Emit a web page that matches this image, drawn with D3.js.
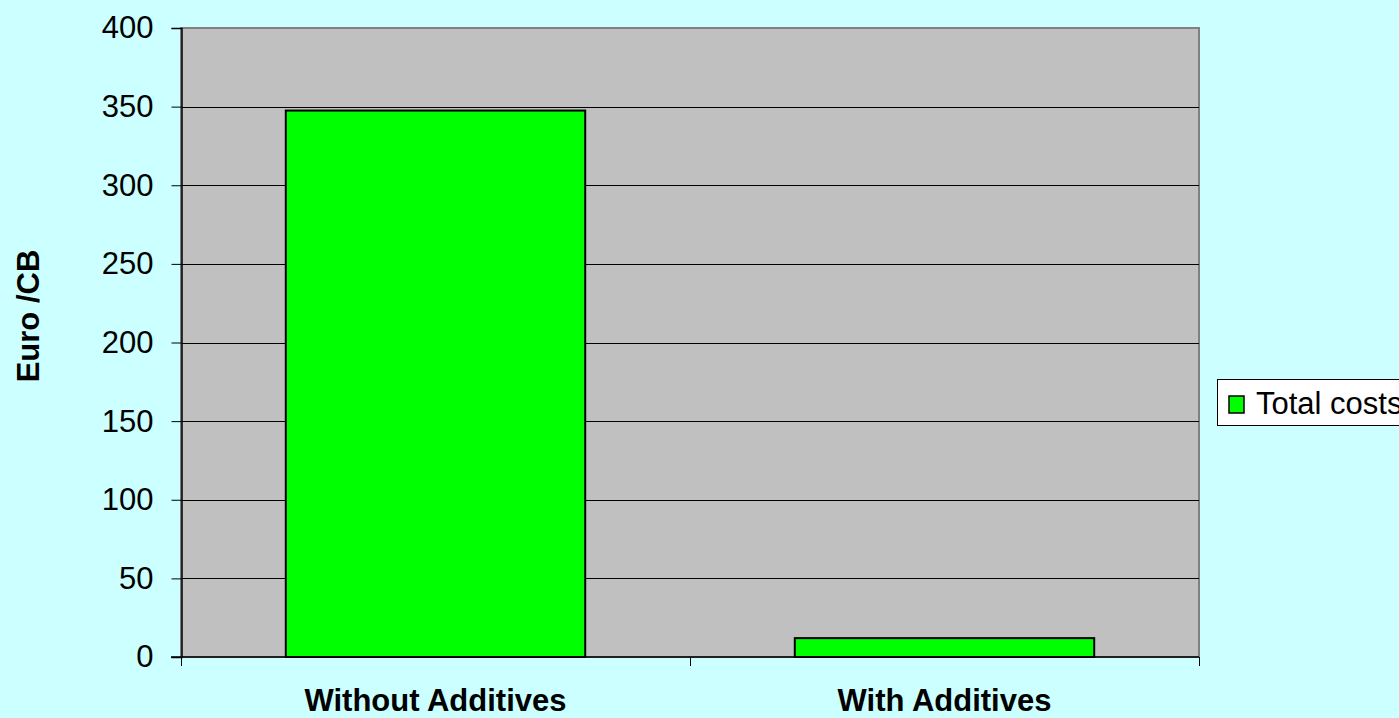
<!DOCTYPE html>
<html><head><meta charset="utf-8">
<script src="https://cdn.jsdelivr.net/npm/d3@7"></script>
<style>
html,body{margin:0;padding:0;background:#CCFFFF;overflow:hidden;}
svg{display:block;}
text{font-family:Arial,"Liberation Sans",sans-serif;}
</style></head>
<body>
<svg id="chart" width="1399" height="718"></svg>
<script>
const categories = ["Without Additives", "With Additives"];
const totalCosts = [347.5, 12];
const yTicks = [0, 50, 100, 150, 200, 250, 300, 350, 400];
const seriesName = "Total costs";
const yLabel = "Euro /CB";

const svg = d3.select("#chart");
const W = 1399, H = 718;
svg.append("rect").attr("width", W).attr("height", H).attr("fill", "#CCFFFF");

const m = {left: 181, right: 1199, top: 28, bottom: 657};
const xb = d3.scaleBand().domain(categories).range([m.left, m.right]);
const barW = xb.bandwidth() / 1.7; // gap width 70%
const y = d3.scaleLinear().domain([0, 400]).range([m.bottom, m.top]);

// plot background
svg.append("rect").attr("x", m.left).attr("y", m.top)
  .attr("width", m.right - m.left).attr("height", m.bottom - m.top)
  .attr("fill", "#C0C0C0").attr("stroke", "#808080").attr("stroke-width", 2);

// gridlines
svg.append("g").selectAll("line").data(yTicks.filter(d => d > 0 && d < 400)).join("line")
  .attr("x1", m.left).attr("x2", m.right)
  .attr("y1", d => Math.round(y(d)) + 0.5).attr("y2", d => Math.round(y(d)) + 0.5)
  .attr("stroke", "#000").attr("stroke-width", 1);

// bars
svg.append("g").selectAll("rect").data(categories).join("rect")
  .attr("x", (d) => xb(d) + (xb.bandwidth() - barW) / 2)
  .attr("width", barW)
  .attr("y", (d, i) => y(totalCosts[i]))
  .attr("height", (d, i) => y(0) - y(totalCosts[i]))
  .attr("fill", "#00FF00").attr("stroke", "#000").attr("stroke-width", 2);

// y axis
const yAxis = d3.axisLeft(y).tickValues(yTicks).tickSize(10).tickPadding(18).tickFormat(d3.format("d"));
const gy = svg.append("g").attr("transform", `translate(${m.left + 0.5},0)`).call(yAxis);
gy.select(".domain").attr("stroke", "#000").attr("stroke-width", 1.5);
gy.selectAll(".tick line").attr("stroke", "#000");
gy.selectAll(".tick text").attr("font-size", 31).attr("fill", "#000")
  .attr("font-family", "Arial, 'Liberation Sans', sans-serif");

// x axis
const gx = svg.append("g").attr("transform", `translate(0,${m.bottom})`);
gx.append("line").attr("x1", m.left - 10).attr("x2", m.right).attr("y1", 0).attr("y2", 0)
  .attr("stroke", "#000").attr("stroke-width", 1.5);
const tickXs = [m.left].concat(categories.map(c => xb(c) + xb.bandwidth()));
gx.selectAll("line.t").data(tickXs).join("line").attr("class", "t")
  .attr("x1", d => Math.round(d) + 0.5).attr("x2", d => Math.round(d) + 0.5)
  .attr("y1", 0).attr("y2", 9).attr("stroke", "#000");
gx.selectAll("text").data(categories).join("text")
  .attr("x", d => xb(d) + xb.bandwidth() / 2)
  .attr("y", 54)
  .attr("text-anchor", "middle")
  .attr("font-size", 31).attr("font-weight", "bold").attr("fill", "#000")
  .text(d => d);

// y label
svg.append("text")
  .attr("transform", `translate(39,316) rotate(-90)`)
  .attr("text-anchor", "middle")
  .attr("font-size", 31).attr("font-weight", "bold").attr("fill", "#000")
  .text(yLabel);

// legend
const lg = svg.append("g");
lg.append("rect").attr("x", 1217.5).attr("y", 379.5).attr("width", 200).attr("height", 46)
  .attr("fill", "#fff").attr("stroke", "#000").attr("stroke-width", 1);
lg.append("rect").attr("x", 1229).attr("y", 396).attr("width", 15).attr("height", 17)
  .attr("fill", "#00FF00").attr("stroke", "#000").attr("stroke-width", 1.5);
lg.append("text").attr("x", 1256).attr("y", 414)
  .attr("font-size", 31).attr("fill", "#000").text(seriesName);
</script>
</body></html>
